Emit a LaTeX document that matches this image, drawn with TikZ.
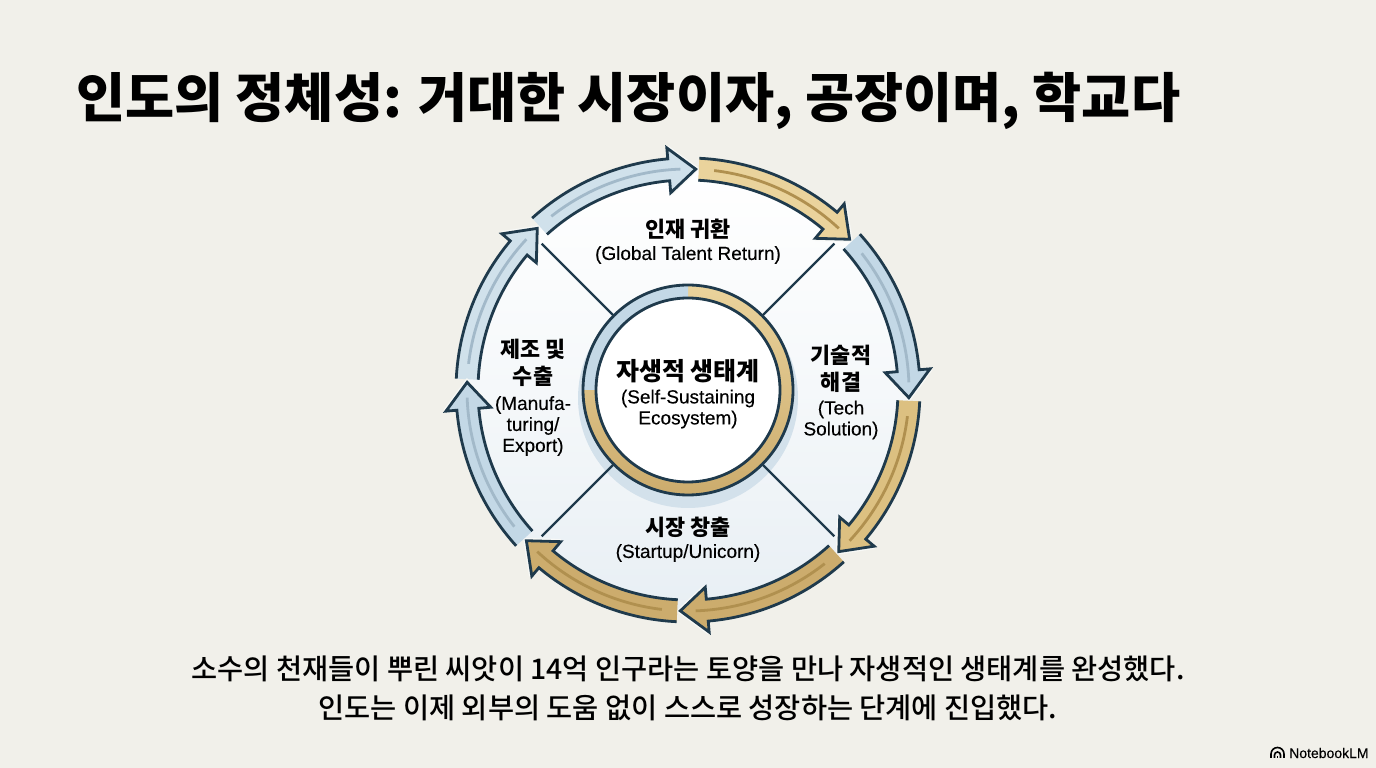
\documentclass[tikz,border=0pt]{standalone}
\usepackage{fontspec}
\setmainfont{Liberation Sans}
\newfontfamily\enfont[FakeBold=0.25]{Liberation Sans}
\newfontfamily\cjk{Noto Sans CJK KR}
\newfontfamily\cjkmed{Noto Sans CJK KR Medium}
\definecolor{paper}{HTML}{F1F0EA}
\definecolor{navy}{HTML}{1F3A4C}
\definecolor{halo}{HTML}{F8F9F7}
\definecolor{bluefill}{HTML}{C3D8E6}
\definecolor{bluelite}{HTML}{D0E1EB}
\definecolor{bluestripe}{HTML}{A2B9C9}
\definecolor{hubshadow}{HTML}{D3E1EB}
\definecolor{wheelmid}{HTML}{F5F8FA}
\definecolor{wheellow}{HTML}{E8EFF4}
\definecolor{goldlite}{HTML}{EAD39C}
\definecolor{goldmid}{HTML}{DCC081}
\definecolor{golddeep}{HTML}{CCAC6D}
\definecolor{goldstripe}{HTML}{B0904F}
\tikzset{
  spoke/.style={draw=navy,line width=2.2pt},
  kolabel/.style={font=\cjk\bfseries\fontsize{21.8}{27}\selectfont,align=center,text=black},
  enlabel/.style={font=\enfont\fontsize{19}{21}\selectfont,align=center,text=black},
}
% tail angle, tip angle, fill colour, stripe colour
\newcommand{\ringarrow}[4]{
  \pgfmathsetmacro\headang{#2+7}
  \draw[halo,line width=5.5pt,line join=miter] (\headang:243) -- (#2:221) -- (\headang:198);
  \fill[#3] (#1:232) arc[start angle=#1,end angle=\headang,radius=232] -- (\headang:243) -- (#2:221)
    -- (\headang:198) -- (\headang:210) arc[start angle=\headang,end angle=#1,radius=210] -- cycle;
  \draw[#4,line width=2.8pt] (#1-4:221) arc[start angle=#1-4,end angle=#2+4,radius=221];
  \draw[navy,line width=2.8pt,line join=miter] (#1:232) arc[start angle=#1,end angle=\headang,radius=232]
    -- (\headang:243) -- (#2:221) -- (\headang:198) -- (\headang:210)
    arc[start angle=\headang,end angle=#1,radius=210];
}
\begin{document}
\begin{tikzpicture}[x=1pt,y=1pt]
  \useasboundingbox (0,0) rectangle (1376,768);
  \fill[paper] (0,0) rectangle (1376,768);
  \node[anchor=west,inner sep=0pt,font=\cjk\bfseries\fontsize{53.4}{60}\selectfont] (title) at (76,667)
    {인도의 정체성: 거대한 시장이자, 공장이며, 학교다};
  \begin{scope}[shift={(688,378)}]
    % Wheel
    \shade[top color=white,bottom color=wheellow,middle color=wheelmid] (0,0) circle (221);
    % Hub shadow
    \fill[hubshadow] (0,-8) circle (110);
    % Spokes
    \coordinate (nwin) at (135:105);
    \coordinate (nwout) at (135:207);
    \coordinate (nein) at (45:105);
    \coordinate (neout) at (45:207);
    \coordinate (sein) at (-45:105);
    \coordinate (seout) at (-45:207);
    \coordinate (swin) at (-135:105);
    \coordinate (swout) at (-135:207);
    \draw[spoke] (nwin) -- (nwout);
    \draw[spoke] (nein) -- (neout);
    \draw[spoke] (sein) -- (seout);
    \draw[spoke] (swin) -- (swout);
    % Hub ring: gold band with a blue quarter
    \shade[top color=goldlite,bottom color=golddeep,even odd rule] (0,0) circle (105) (0,0) circle (92);
    \fill[bluefill] (90:105) arc[start angle=90,end angle=180,radius=105] -- (180:92)
      arc[start angle=180,end angle=90,radius=92] -- cycle;
    \fill[white] (0,0) circle (92);
    \draw[navy,line width=2.8pt] (0,0) circle (105);
    \draw[navy,line width=2.8pt] (0,0) circle (92);
    % Arrow 1: left, upper (blue)
    \ringarrow{177.2}{133}{bluelite}{bluestripe}
    % Arrow 2: top, left (blue)
    \ringarrow{132.2}{88}{bluelite}{bluestripe}
    % Arrow 3: top, right (gold)
    \ringarrow{87.2}{43}{goldlite}{goldstripe}
    % Arrow 4: right, upper (blue)
    \ringarrow{42.2}{-2}{bluefill}{bluestripe}
    % Arrow 5: right, lower (gold)
    \ringarrow{-2.8}{-47}{goldmid}{goldstripe}
    % Arrow 6: bottom, right (gold)
    \ringarrow{-47.8}{-92}{golddeep}{goldstripe}
    % Arrow 7: bottom, left (gold)
    \ringarrow{-92.8}{-137}{golddeep}{goldstripe}
    % Arrow 8: left, lower (blue)
    \ringarrow{222.2}{178}{bluefill}{bluestripe}
  \end{scope}
  % Wheel labels
  \node[kolabel] (talentko) at (688,539) {인재 귀환};
  \node[enlabel] (talenten) at (688,513) {(Global Talent Return)};
  \node[kolabel] (techko) at (841,399) {기술적\\해결};
  \node[enlabel] (techen) at (841,348) {(Tech\\Solution)};
  \node[kolabel] (marketko) at (688,241) {시장 창출};
  \node[enlabel] (marketen) at (688,215) {(Startup/Unicorn)};
  \node[kolabel] (makeko) at (533,405) {제조 및\\수출};
  \node[enlabel] (makeen) at (533,342) {(Manufa-\\turing/\\Export)};
  \node[kolabel,font=\cjk\bfseries\fontsize{25}{30}\selectfont] (hubko) at (688,397) {자생적 생태계};
  \node[enlabel] (huben) at (688,359) {(Self-Sustaining\\Ecosystem)};
  % Caption
  \node[font=\cjkmed\fontsize{28.4}{39}\selectfont,align=center,inner sep=0pt] (caption) at (688,80)
    {소수의 천재들이 뿌린 씨앗이 14억 인구라는 토양을 만나 자생적인 생태계를 완성했다.\\
     인도는 이제 외부의 도움 없이 스스로 성장하는 단계에 진입했다.};
  % Logo
  \node[anchor=west,inner sep=0pt,font=\enfont\fontsize{14}{16}\selectfont] (logo) at (1289,15) {NotebookLM};
  \draw[black,line width=1.6pt] (1271,10) -- (1271,14) arc[start angle=180,end angle=0,radius=6.5] -- (1284,10);
  \draw[black,line width=1.6pt] (1274.5,10) -- (1274.5,13) arc[start angle=180,end angle=0,radius=3] -- (1280.5,10);
  \draw[black,line width=1.6pt] (1277.5,10) -- (1277.5,12);
\end{tikzpicture}
\end{document}
